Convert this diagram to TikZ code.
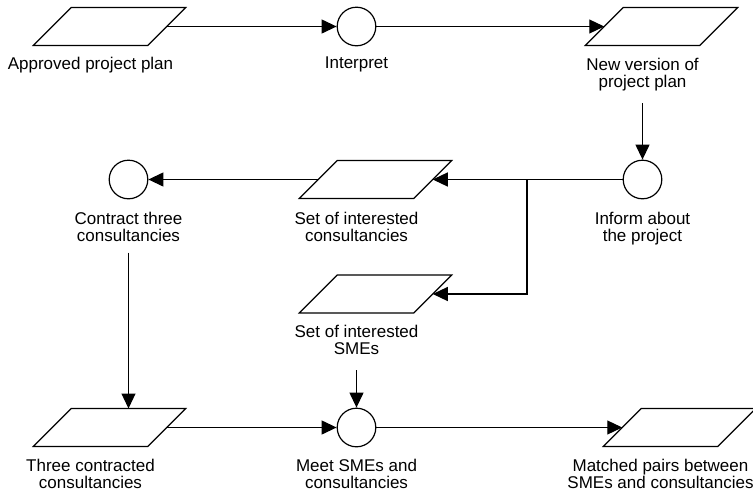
\documentclass[tikz,border=0pt]{standalone}
\usepackage{fontspec}
\setmainfont{Liberation Sans}
\usetikzlibrary{arrows.meta}
\tikzset{
  shapeline/.style={draw=black, line width=1.2pt, line join=miter},
  pgbox/.style={rectangle, minimum width=114.5pt, minimum height=38pt, inner sep=0pt, outer sep=0pt},
  circ/.style={circle, draw=black, line width=1.2pt, minimum size=38.6pt, inner sep=0pt},
  lbl/.style={anchor=north, align=center, inner sep=0pt, font=\fontsize{17}{17.3}\selectfont},
  arr/.style={line width=1.2pt, -{Triangle[length=15pt,width=14pt]}},
}
\newcommand\drawpgram[1]{\draw[shapeline] ([xshift=-19pt]#1.south west) -- ([xshift=-19pt]#1.south east) -- ([xshift=19pt]#1.north east) -- ([xshift=19pt]#1.north west) -- cycle;}
\begin{document}
\begin{tikzpicture}[x=1pt,y=-1pt]
\fill[white] (0,0) rectangle (753,493);
\useasboundingbox (0,0) rectangle (753,493);
% shapes
\node[pgbox] (p1) at (109.5,26.5) {};
\node[circ] (c1) at (356.5,26.5) {};
\node[pgbox] (p2) at (661.5,26.5) {};
\node[circ] (c2) at (642.5,179.5) {};
\node[pgbox] (p3) at (375.5,179.5) {};
\node[circ] (c3) at (128.5,179.5) {};
\node[pgbox] (p4) at (375.5,294) {};
\node[pgbox] (p5) at (109.5,427.5) {};
\node[circ] (c4) at (356.5,427.5) {};
\node[pgbox] (p6) at (679.5,427.5) {};
\drawpgram{p1}
\drawpgram{p2}
\drawpgram{p3}
\drawpgram{p4}
\drawpgram{p5}
\drawpgram{p6}
% labels
\node[lbl] (l1) at (90.5,57) {Approved project plan};
\node[lbl] (l2) at (356.5,57) {Interpret};
\node[lbl] (l3) at (642.5,57.5) {New version of\\project plan};
\node[lbl] (l4) at (642.5,211.5) {Inform about\\the project};
\node[lbl] (l5) at (356.5,211.5) {Set of interested\\consultancies};
\node[lbl] (l6) at (128.5,211.5) {Contract three\\consultancies};
\node[lbl] (l7) at (356.5,325) {Set of interested\\SMEs};
\node[lbl] (l8) at (90.5,458.5) {Three contracted\\consultancies};
\node[lbl] (l9) at (356.5,458.5) {Meet SMEs and\\consultancies};
\node[lbl] (l10) at (660.5,459) {Matched pairs between\\SMEs and consultancies};
% connectors
\coordinate (j) at (527,179.5);
\draw[arr] (p1.east) -- (c1.west);
\draw[arr] (c1.east) -- (p2.west);
\draw[arr, shorten <=12pt] (l3.south) -- (c2.north);
\draw[arr] (c2.west) -- (p3.east);
\draw[arr] (j) |- (p4.east);
\draw[arr] (p3.west) -- (c3.east);
\draw[arr, shorten <=11pt] (l6.south) -- (l6.south |- p5.north);
\draw[arr] (p5.east) -- (c4.west);
\draw[arr, shorten <=15pt] (l7.south) -- (c4.north);
\draw[arr] (c4.east) -- (p6.west);
\end{tikzpicture}
\end{document}
